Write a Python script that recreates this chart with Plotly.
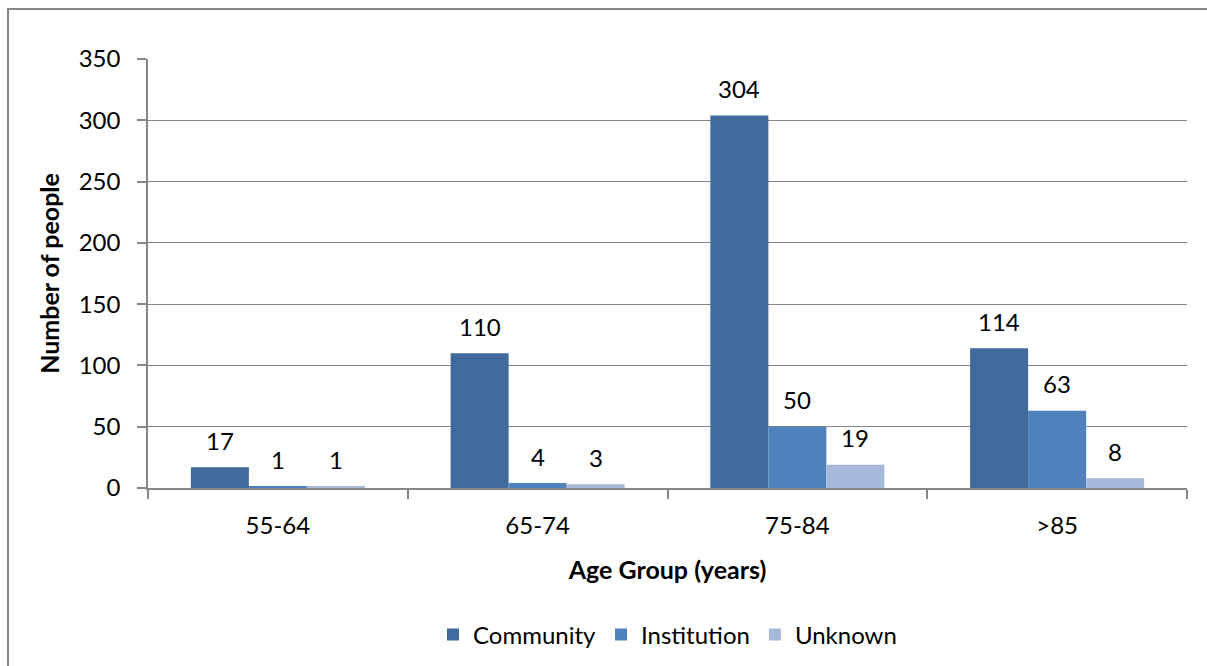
import plotly.graph_objects as go

# Age groups and counts per residence type
age_groups = ["55-64", "65-74", "75-84", ">85"]
community = [17, 110, 304, 114]
institution = [1, 4, 50, 63]
unknown = [1, 3, 19, 8]

series = [
    ("Community", community, "#3F6A9B"),
    ("Institution", institution, "#4F81BD"),
    ("Unknown", unknown, "#A7B9DA"),
]

FONT = "Lato"
FS = 24
GRID = "#868686"
BARGAP = 0.33

W, H = 1207, 666
L, R, T, B = 148, 20, 59, 178
pw, ph = W - L - R, H - T - B

fig = go.Figure()
for name, vals, color in series:
    fig.add_trace(go.Bar(
        name=name,
        x=age_groups,
        y=vals,
        marker=dict(color=color, line=dict(width=0)),
    ))

# value labels above each bar, shifted to the bar's slot within its group
cat_w = pw / len(age_groups)
bar_w = cat_w * (1 - BARGAP) / len(series)
annotations = []
for i, (name, vals, color) in enumerate(series):
    shift = (i - (len(series) - 1) / 2) * bar_w
    for cat, v in zip(age_groups, vals):
        annotations.append(dict(
            x=cat, y=v, xref="x", yref="y",
            text=str(v), showarrow=False,
            xanchor="center", yanchor="middle",
            xshift=shift, yshift=27,
            font=dict(family=FONT, size=FS, color="#000000"),
        ))


def px_x(x):
    return (x - L) / pw


def px_y(y):
    return (H - B - y) / ph


fig.update_layout(
    width=W,
    height=H,
    margin=dict(l=L, r=R, t=T, b=B, autoexpand=False),
    paper_bgcolor="white",
    plot_bgcolor="white",
    barmode="group",
    bargap=BARGAP,
    bargroupgap=0,
    font=dict(family=FONT, size=FS, color="#000000"),
    showlegend=True,
    legend=dict(
        orientation="h",
        x=0.5,
        xanchor="center",
        y=px_y(635),
        yanchor="middle",
        font=dict(family=FONT, size=FS),
        itemwidth=30,
        traceorder="normal",
    ),
    annotations=annotations,
    xaxis=dict(
        type="category",
        automargin=False,
        showline=True,
        linecolor=GRID,
        linewidth=1.5,
        ticks="outside",
        tickson="boundaries",
        ticklen=9,
        tickcolor=GRID,
        tickwidth=1.5,
        tickfont=dict(family=FONT, size=FS),
        ticklabelstandoff=15,
        showgrid=False,
        title=dict(text="<b>Age Group (years)</b>", font=dict(family=FONT, size=25), standoff=24),
    ),
    yaxis=dict(
        range=[0, 350],
        dtick=50,
        automargin=False,
        showline=True,
        linecolor=GRID,
        linewidth=1.5,
        ticks="outside",
        ticklen=9,
        tickcolor=GRID,
        tickwidth=1.5,
        showgrid=True,
        gridcolor=GRID,
        gridwidth=1.2,
        zeroline=False,
        tickfont=dict(family=FONT, size=FS),
        ticklabelstandoff=12,
        title=dict(text="<b>Number of people</b>", font=dict(family=FONT, size=25), standoff=12),
    ),
    shapes=[
        dict(
            type="rect",
            xref="paper",
            yref="paper",
            x0=px_x(8),
            x1=px_x(1215),
            y0=px_y(675),
            y1=px_y(9),
            line=dict(color=GRID, width=2),
            fillcolor="rgba(0,0,0,0)",
            layer="below",
        )
    ],
)

fig.write_html("out.html")
